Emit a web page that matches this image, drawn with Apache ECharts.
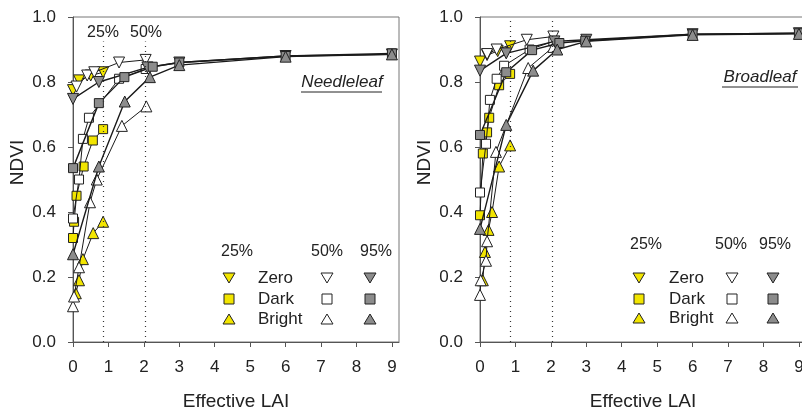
<!DOCTYPE html>
<html><head><meta charset="utf-8">
<script src="https://cdn.jsdelivr.net/npm/echarts@6/dist/echarts.min.js"></script>
<style>html,body{margin:0;padding:0;background:#fff}#c{width:802px;height:415px}</style>
</head><body><div id="c"></div>
<script>
// ---- data (Effective LAI, NDVI) ----
const xTicks = [0,1,2,3,4,5,6,7,8,9];
const yTicks = [0,0.2,0.4,0.6,0.8,1.0];
const coverLines = [0.85, 2.05]; // 25% and 50% cover limits

const needleZero25   = [[0,0.775],[0.17,0.805],[0.5,0.82],[0.85,0.83]];
const needleDark25   = [[0,0.32],[0.03,0.37],[0.1,0.45],[0.3,0.54],[0.56,0.62],[0.85,0.655]];
const needleBright25 = [[0.08,0.15],[0.17,0.19],[0.28,0.255],[0.57,0.335],[0.85,0.37]];
const needleZero50   = [[0.1,0.786],[0.4,0.82],[0.6,0.83],[1.3,0.86],[2.05,0.868]];
const needleDark50   = [[0,0.38],[0.17,0.50],[0.28,0.625],[0.45,0.69],[1.3,0.81],[2.05,0.84]];
const needleBright50 = [[0,0.11],[0.03,0.14],[0.17,0.23],[0.48,0.43],[0.67,0.50],[1.38,0.665],[2.07,0.725]];
const needleZero95   = [[0,0.748],[0.73,0.80],[2.1,0.845],[3,0.86],[6,0.88],[9,0.885]];
const needleDark95   = [[0,0.535],[0.73,0.735],[1.45,0.815],[2.25,0.847],[3,0.86],[6,0.88],[9,0.888]];
const needleBright95 = [[0,0.27],[0.73,0.54],[1.46,0.74],[2.17,0.815],[3,0.852],[6,0.878],[9,0.885]];

const broadZero25   = [[0,0.863],[0.2,0.883],[0.5,0.895],[0.85,0.91]];
const broadDark25   = [[0,0.39],[0.08,0.58],[0.2,0.645],[0.26,0.69],[0.54,0.79],[0.85,0.825]];
const broadBright25 = [[0.08,0.19],[0.14,0.277],[0.24,0.345],[0.34,0.40],[0.54,0.54],[0.85,0.605]];
const broadZero50   = [[0.2,0.886],[0.47,0.90],[1.32,0.93],[2.07,0.94]];
const broadDark50   = [[0,0.46],[0.17,0.61],[0.28,0.745],[0.47,0.81],[0.68,0.85],[1.4,0.9],[2.07,0.925]];
const broadBright50 = [[0,0.145],[0.02,0.19],[0.17,0.25],[0.2,0.31],[0.45,0.585],[1.36,0.843],[2.07,0.908]];
const broadZero95   = [[0,0.835],[0.74,0.888],[2.1,0.925],[3,0.93],[6,0.947],[9,0.95]];
const broadDark95   = [[0,0.637],[0.74,0.83],[1.47,0.898],[2.24,0.92],[2.97,0.927],[6,0.947],[9,0.95]];
const broadBright95 = [[0,0.348],[0.74,0.668],[1.5,0.835],[2.18,0.9],[3,0.925],[6,0.945],[9,0.948]];

// ---- styles ----
const FILL = {'25%':'#f2e500','50%':'#ffffff','95%':'#8c8c8c'};
const SYM = {Zero:{symbol:'triangle',rot:180}, Dark:{symbol:'rect',rot:0}, Bright:{symbol:'triangle',rot:0}};
const FONT = 'Liberation Sans, Arial, sans-serif';

function mk(name, data, gi, kind, cover){
  const s = SYM[kind];
  return {
    name: name, type:'line', xAxisIndex:gi, yAxisIndex:gi, data:data,
    symbol:s.symbol, symbolRotate:s.rot, symbolSize: kind==='Dark'?9:11,
    showSymbol:true, animation:false,
    lineStyle:{color:'#1a1a1a', width: cover==='95%'?1.4:1},
    itemStyle:{color:FILL[cover], borderColor:'#222', borderWidth:1, opacity:1},
    z: cover==='25%'?2:(cover==='50%'?3:4)
  };
}

const panels = [
  {Zero25:needleZero25,Dark25:needleDark25,Bright25:needleBright25,Zero50:needleZero50,Dark50:needleDark50,Bright50:needleBright50,Zero95:needleZero95,Dark95:needleDark95,Bright95:needleBright95},
  {Zero25:broadZero25,Dark25:broadDark25,Bright25:broadBright25,Zero50:broadZero50,Dark50:broadDark50,Bright50:broadBright50,Zero95:broadZero95,Dark95:broadDark95,Bright95:broadBright95}
];

const series = [];
panels.forEach((p,gi)=>{
  ['25%','50%','95%'].forEach(c=>{
    ['Zero','Dark','Bright'].forEach(k=>{
      series.push(mk(k+' '+c, p[k+c.replace('%','')], gi, k, c));
    });
  });
  series.push({
    type:'line', xAxisIndex:gi, yAxisIndex:gi, data:[], silent:true,
    markLine:{symbol:'none', silent:true, animation:false, label:{show:false},
      lineStyle:{type:[1,4], color:'#333', width:1.2},
      data: coverLines.map(v=>[{coord:[v,0]},{coord:[v, gi===0?0.925:1.0]}])}
  });
});

function xAxis(gi){
  return {type:'value', gridIndex:gi, min:0, max:9.2, interval:1,
    name:'Effective LAI', nameLocation:'middle', nameGap:50,
    nameTextStyle:{fontFamily:FONT, fontSize:19, color:'#222'},
    axisLine:{show:true, onZero:false, lineStyle:{color:'#555', width:1}},
    axisTick:{show:true, inside:false, length:5, lineStyle:{color:'#555'}, customValues: xTicks},
    axisLabel:{fontFamily:FONT, fontSize:17, color:'#222', margin:17,
      customValues: xTicks, formatter: v=>String(v)},
    splitLine:{show:false}};
}
function yAxis(gi){
  return {type:'value', gridIndex:gi, min:0, max:1, interval:0.2,
    name:'NDVI', nameLocation:'middle', nameGap:46, nameRotate:90,
    nameTextStyle:{fontFamily:FONT, fontSize:19, color:'#222', padding:[0,0,0,34]},
    axisLine:{show:true, lineStyle:{color:'#555', width:1}},
    axisTick:{show:true, length:5, lineStyle:{color:'#555'}},
    axisLabel:{fontFamily:FONT, fontSize:17, color:'#222', margin:17, formatter: v=>v.toFixed(1)},
    splitLine:{show:false}};
}

// ---- in-plot text & legend ----
const g = [];
function txt(x,y,s,size,extra){ g.push(Object.assign({type:'text', x:x, y:y, style:Object.assign({text:s, font:(size||16)+'px '+FONT, fill:'#222', textAlign:'center', textVerticalAlign:'middle'}, extra||{})})); }
function legSym(x,y,kind,cover){
  const fill = FILL[cover];
  if(kind==='Dark'){ g.push({type:'rect', shape:{x:x-5,y:y-5,width:10,height:10}, style:{fill:fill, stroke:'#222', lineWidth:1}}); }
  else if(kind==='Zero'){ g.push({type:'polygon', shape:{points:[[x-6,y-5],[x+6,y-5],[x,y+5]]}, style:{fill:fill, stroke:'#222', lineWidth:1}}); }
  else { g.push({type:'polygon', shape:{points:[[x-6,y+5],[x+6,y+5],[x,y-5]]}, style:{fill:fill, stroke:'#222', lineWidth:1}}); }
}
function legend(hx, hy, rows, colX, textX){
  txt(hx[0], hy, '25%'); txt(hx[1], hy, '50%'); txt(hx[2], hy, '95%');
  ['Zero','Dark','Bright'].forEach((k,i)=>{
    legSym(colX[0], rows[i], k, '25%');
    legSym(colX[1], rows[i], k, '50%');
    legSym(colX[2], rows[i], k, '95%');
    txt(textX, rows[i], k, 17, {textAlign:'left'});
  });
}
legend([237,327,376], 252, [278,299,319], [229,327,370], 258);
legend([646,731,775], 245, [278,299,318], [639,732,773], 669);
txt(103, 33, '25%', 16); txt(146, 33, '50%', 16);
txt(342, 82, 'Needleleaf', 17, {font:'italic 17px '+FONT});
g.push({type:'line', shape:{x1:301,y1:92,x2:382,y2:92}, style:{stroke:'#222', lineWidth:1}});
txt(760, 77, 'Broadleaf', 17, {font:'italic 17px '+FONT});
g.push({type:'line', shape:{x1:722,y1:87,x2:798,y2:87}, style:{stroke:'#222', lineWidth:1}});

const chart = echarts.init(document.getElementById('c'), null, {renderer:'canvas'});
chart.setOption({
  backgroundColor:'#fff', animation:false,
  grid:[
    {left:73, top:17, width:326, height:325, show:true, borderColor:'#777', borderWidth:1, containLabel:false, outerBoundsMode:'none'},
    {left:480, top:17, width:326, height:325, show:true, borderColor:'#777', borderWidth:1, containLabel:false, outerBoundsMode:'none'}
  ],
  xAxis:[xAxis(0), xAxis(1)],
  yAxis:[yAxis(0), yAxis(1)],
  series: series,
  graphic: g
});
</script></body></html>
